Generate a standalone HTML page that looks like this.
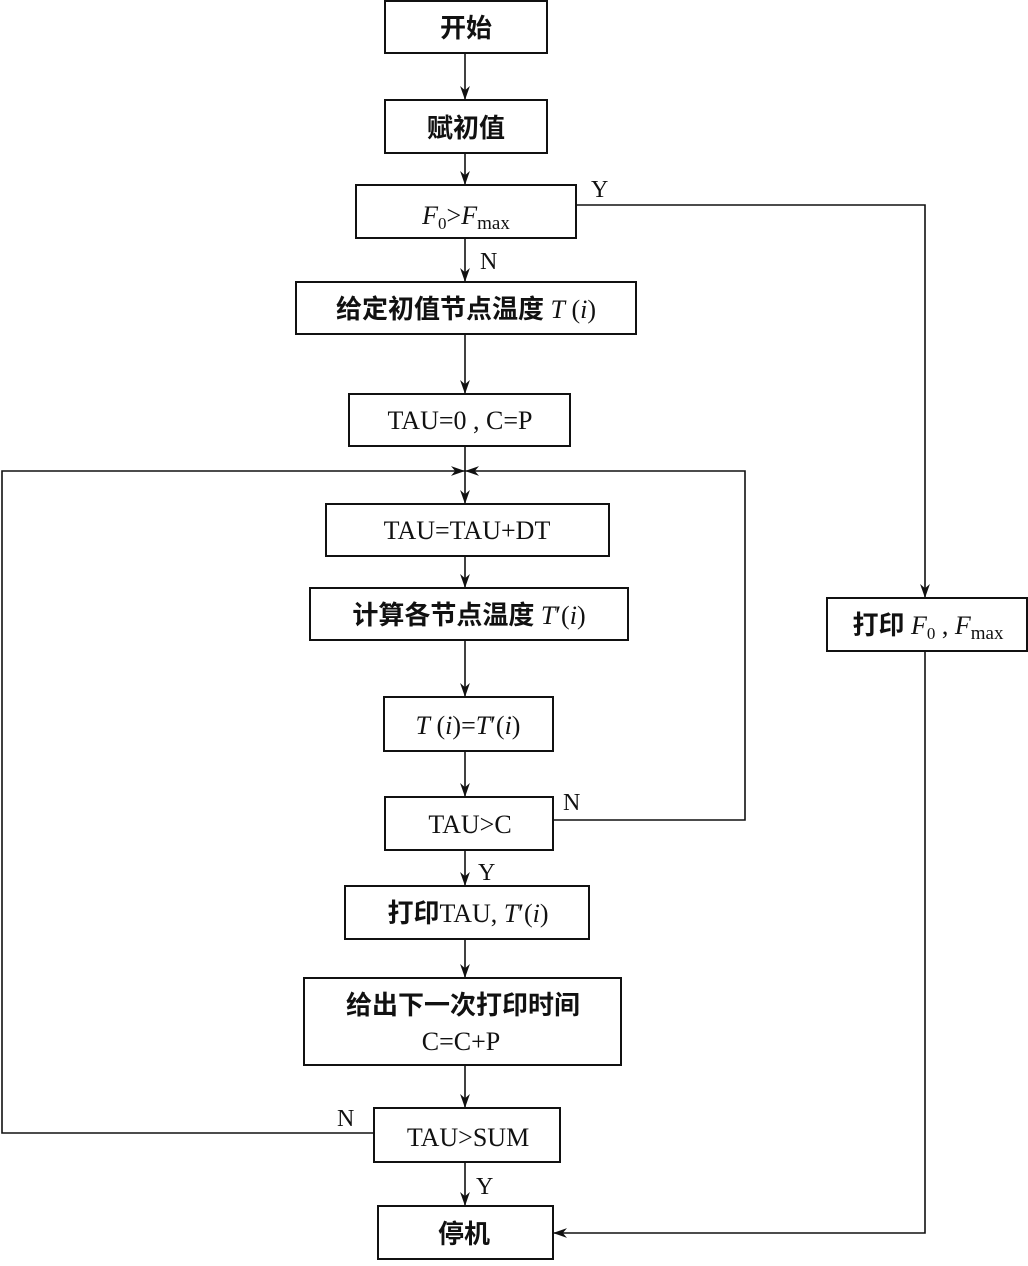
<!DOCTYPE html>
<html><head><meta charset="utf-8"><style>
html,body{margin:0;padding:0;background:#fff}
svg text{font-family:"Liberation Serif","Noto Serif CJK SC",serif;fill:#111}
.c{font-family:"Noto Sans CJK SC","Liberation Serif",sans-serif;font-weight:bold}
</style></head><body>
<svg width="1028" height="1261" viewBox="0 0 1028 1261" xmlns="http://www.w3.org/2000/svg">
<defs><marker id="a" viewBox="0 0 10 10" refX="10" refY="5" markerWidth="14" markerHeight="14" markerUnits="userSpaceOnUse" orient="auto"><path d="M0,1.5 L10,5 L0,8.5 L3,5 z" fill="#111"/></marker></defs>
<g fill="none" stroke="#111" stroke-width="2">
<rect x="385" y="1" width="162" height="52"/>
<rect x="385" y="100" width="162" height="53"/>
<rect x="356" y="185" width="220" height="53"/>
<rect x="296" y="282" width="340" height="52"/>
<rect x="349" y="394" width="221" height="52"/>
<rect x="326" y="504" width="283" height="52"/>
<rect x="310" y="588" width="318" height="52"/>
<rect x="384" y="697" width="169" height="54"/>
<rect x="385" y="797" width="168" height="53"/>
<rect x="345" y="886" width="244" height="53"/>
<rect x="304" y="978" width="317" height="87"/>
<rect x="374" y="1108" width="186" height="54"/>
<rect x="378" y="1206" width="175" height="53"/>
<rect x="827" y="598" width="200" height="53"/>
</g>
<g fill="none" stroke="#111" stroke-width="1.6" marker-end="url(#a)">
<line x1="465" y1="53" x2="465" y2="100"/>
<line x1="465" y1="153" x2="465" y2="185"/>
<line x1="465" y1="238" x2="465" y2="282"/>
<line x1="465" y1="334" x2="465" y2="394"/>
<line x1="465" y1="446" x2="465" y2="504"/>
<polyline points="374,1133 2,1133 2,471 465,471"/>
<polyline points="553,820 745,820 745,471 465,471"/>
<line x1="465" y1="556" x2="465" y2="588"/>
<line x1="465" y1="640" x2="465" y2="697"/>
<line x1="465" y1="751" x2="465" y2="797"/>
<line x1="465" y1="850" x2="465" y2="886"/>
<line x1="465" y1="939" x2="465" y2="978"/>
<line x1="465" y1="1065" x2="465" y2="1108"/>
<line x1="465" y1="1162" x2="465" y2="1206"/>
<polyline points="576,205 925,205 925,598"/>
<polyline points="925,651 925,1233 553,1233"/>
</g>
<g font-size="26" text-anchor="middle">
<text x="466" y="37" class="c">开始</text>
<text x="466" y="137" class="c">赋初值</text>
<text x="466" y="224" font-size="26"><tspan font-style="italic">F</tspan><tspan font-size="17" dy="5">0</tspan><tspan dy="-5">&gt;</tspan><tspan font-style="italic">F</tspan><tspan font-size="19" dy="5">max</tspan></text>
<text x="466" y="318"><tspan class="c">给定初值节点温度</tspan><tspan font-style="italic"> T</tspan> (<tspan font-style="italic">i</tspan>)</text>
<text x="460" y="429">TAU=0 , C=P</text>
<text x="467" y="539">TAU=TAU+DT</text>
<text x="469" y="624"><tspan class="c">计算各节点温度</tspan><tspan font-style="italic"> T</tspan>′(<tspan font-style="italic">i</tspan>)</text>
<text x="468" y="734"><tspan font-style="italic">T</tspan> (<tspan font-style="italic">i</tspan>)=<tspan font-style="italic">T</tspan>′(<tspan font-style="italic">i</tspan>)</text>
<text x="470" y="833">TAU&gt;C</text>
<text x="468" y="922"><tspan class="c">打印</tspan>TAU, <tspan font-style="italic">T</tspan>′(<tspan font-style="italic">i</tspan>)</text>
<text x="463" y="1014" class="c">给出下一次打印时间</text>
<text x="461" y="1050">C=C+P</text>
<text x="468" y="1146">TAU&gt;SUM</text>
<text x="464" y="1243" class="c">停机</text>
<text x="928" y="634"><tspan class="c">打印</tspan> <tspan font-style="italic">F</tspan><tspan font-size="17" dy="5">0</tspan><tspan dy="-5"> , </tspan><tspan font-style="italic">F</tspan><tspan font-size="19" dy="5">max</tspan></text>
</g>
<g font-size="24">
<text x="591" y="197">Y</text>
<text x="480" y="269">N</text>
<text x="563" y="810">N</text>
<text x="478" y="880">Y</text>
<text x="337" y="1126">N</text>
<text x="476" y="1194">Y</text>
</g>
</svg>
</body></html>
